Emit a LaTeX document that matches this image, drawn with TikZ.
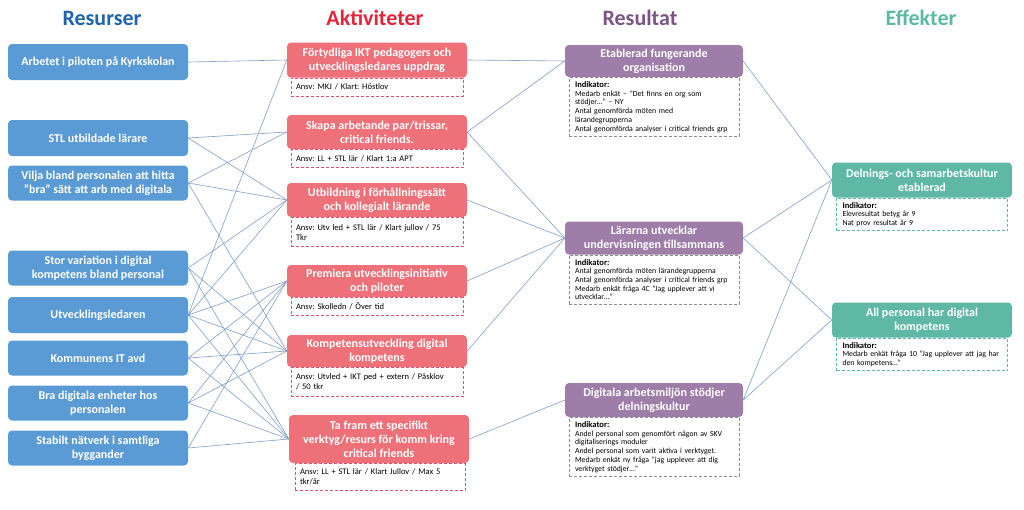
\documentclass[tikz,border=0pt]{standalone}
\usepackage{fontspec}
\setmainfont{Carlito}
\frenchspacing
\usetikzlibrary{positioning}
\definecolor{resBlue}{HTML}{5B9BD5}
\definecolor{resTitle}{HTML}{1F64AC}
\definecolor{actRed}{HTML}{EE7078}
\definecolor{actTitle}{HTML}{E5243B}
\definecolor{actDash}{HTML}{E0506A}
\definecolor{outPurple}{HTML}{9E7DA8}
\definecolor{outTitle}{HTML}{7B5586}
\definecolor{outGray}{HTML}{8C8C8C}
\definecolor{effTeal}{HTML}{5FB8A6}
\definecolor{effTitle}{HTML}{5CB9A4}
\definecolor{linkBlue}{HTML}{7F9FC8}

\begin{document}
\begin{tikzpicture}[
    x=1pt, y=-1pt,
    title/.style={font=\fontsize{22}{24}\selectfont\bfseries},
    box/.style={rounded corners=4pt, minimum width=180pt, inner sep=2pt, align=center, text=white, font=\fontsize{12}{14}\selectfont\bfseries},
    ansv/.style={draw=actDash, dash pattern=on 3pt off 2pt, line width=0.7pt, fill=white, text width=162pt, inner xsep=5pt, inner ysep=3pt, minimum height=18pt, align=left, font=\fontsize{8.5}{10}\selectfont},
    ind/.style={draw=#1, dash pattern=on 3pt off 2pt, line width=0.7pt, fill=white, anchor=north, text width=158pt, inner xsep=6pt, inner ysep=4pt, align=left, font=\fontsize{7.8}{8.7}\selectfont},
    link/.style={draw=linkBlue, line width=0.6pt},
]
    \useasboundingbox (0,0) rectangle (1024,509);

    % column titles
    \node[title, text=resTitle] (tRes) at (102,18) {Resurser};
    \node[title, text=actTitle] (tAct) at (375,18) {Aktiviteter};
    \node[title, text=outTitle] (tOut) at (640,18) {Resultat};
    \node[title, text=effTitle] (tEff) at (921,18) {Effekter};

    % resurser
    \node[box, fill=resBlue, minimum height=36pt] (r1) at (98,62) {Arbetet i piloten på Kyrkskolan};
    \node[box, fill=resBlue, minimum height=36pt] (r2) at (98,138) {STL utbildade lärare};
    \node[box, fill=resBlue, minimum height=35pt] (r3) at (98,183) {Vilja bland personalen att hitta\\”bra” sätt att arb med digitala};
    \node[box, fill=resBlue, minimum height=35pt] (r4) at (98,268) {Stor variation i digital\\kompetens bland personal};
    \node[box, fill=resBlue, minimum height=36pt] (r5) at (98,315) {Utvecklingsledaren};
    \node[box, fill=resBlue, minimum height=35pt] (r6) at (98,358) {Kommunens IT avd};
    \node[box, fill=resBlue, minimum height=35pt] (r7) at (98,403) {Bra digitala enheter hos\\personalen};
    \node[box, fill=resBlue, minimum height=35pt] (r8) at (98,448) {Stabilt nätverk i samtliga\\byggander};

    % aktiviteter
    \node[box, fill=actRed, minimum height=35pt] (a1) at (377,60) {Förtydliga IKT pedagogers och\\utvecklingsledares uppdrag};
    \node[ansv, below=0pt of a1] (a1s) {Ansv: MKJ / Klart: Höstlov};
    \node[box, fill=actRed, minimum height=34pt] (a2) at (377,132) {Skapa arbetande par/trissar,\\critical friends.};
    \node[ansv, below=0pt of a2] (a2s) {Ansv: LL + STL lär / Klart 1:a APT};
    \node[box, fill=actRed, minimum height=34pt] (a3) at (377,200) {Utbildning i förhållningssätt\\och kollegialt lärande};
    \node[ansv, below=0pt of a3, minimum height=29pt] (a3s) {Ansv: Utv led + STL lär / Klart jullov / 75\\Tkr};
    \node[box, fill=actRed, minimum height=32pt] (a4) at (377,281) {Premiera utvecklingsinitiativ\\och piloter};
    \node[ansv, below=0pt of a4] (a4s) {Ansv: Skolledn / Över tid};
    \node[box, fill=actRed, minimum height=32pt] (a5) at (377,351) {Kompetensutveckling digital\\kompetens};
    \node[ansv, below=0pt of a5, minimum height=29pt] (a5s) {Ansv: Utvled + IKT ped + extern / Påsklov\\/ 50 tkr};
    \node[box, fill=actRed, minimum height=48pt] (a6) at (379,439) {Ta fram ett specifikt\\verktyg/resurs för komm kring\\critical friends};
    \node[ansv, below=0pt of a6, text width=160pt, minimum height=27pt, xshift=1pt] (a6s) {Ansv: LL + STL lär / Klart Jullov / Max 5\\tkr/år};

    % resultat
    \node[box, fill=outPurple, minimum height=32pt, minimum width=178pt] (o1) at (654,61) {Etablerad fungerande\\organisation};
    \node[ind=outGray, below=0pt of o1] (o1i) {{\fontsize{8.5}{8.7}\selectfont\bfseries Indikator:}\\Medarb enkät – ”Det finns en org som\\stödjer…” – NY\\Antal genomförda möten med\\lärandegrupperna\\Antal genomförda analyser i critical friends grp\par\vspace{18pt}};
    \node[box, fill=outPurple, minimum height=33pt, minimum width=178pt] (o2) at (654,238) {Lärarna utvecklar\\undervisningen tillsammans};
    \node[ind=outGray, below=0pt of o2] (o2i) {{\fontsize{8.5}{8.7}\selectfont\bfseries Indikator:}\\Antal genomförda möten lärandegrupperna\\Antal genomförda analyser i critical friends grp\\Medarb enkät fråga 4C ”Jag upplever att vi\\utvecklar…”\par\vspace{4pt}};
    \node[box, fill=outPurple, minimum height=34pt, minimum width=178pt] (o3) at (654,400) {Digitala arbetsmiljön stödjer\\delningskultur};
    \node[ind=outGray, below=0pt of o3] (o3i) {{\fontsize{8.5}{8.7}\selectfont\bfseries Indikator:}\\Andel personal som genomfört någon av SKV\\digitaliserings moduler\\Andel personal som varit aktiva i verktyget.\\Medarb enkät ny fråga ”jag upplever att dig\\verktyget stödjer…”\par\vspace{11pt}};

    % effekter
    \node[box, fill=effTeal, minimum height=35pt] (e1) at (922,180) {Delnings- och samarbetskultur\\etablerad};
    \node[ind=effTeal, below=0pt of e1, text width=159pt] (e1i) {{\fontsize{8.5}{8.7}\selectfont\bfseries Indikator:}\\Elevresultat betyg år 9\\Nat prov resultat år 9\par\vspace{7pt}};
    \node[box, fill=effTeal, minimum height=35pt] (e2) at (922,320) {All personal har digital\\kompetens};
    \node[ind=effTeal, below=0pt of e2, text width=159pt] (e2i) {{\fontsize{8.5}{8.7}\selectfont\bfseries Indikator:}\\Medarb enkät fråga 10 ”Jag upplever att jag har\\den kompetens…”\par\vspace{8pt}};

    % resurser -> aktiviteter
    \draw[link] (r1.east) -- (a1.west);
    \draw[link] (r2.east) -- (a2.west) (r2.east) -- (a3.west);
    \draw[link] (r3.east) -- (a2.west) (r3.east) -- (a3.west) (r3.east) -- (a5.west);
    \draw[link] (r4.east) -- (a3.west) (r4.east) -- (a5.west) (r4.east) -- (a6.west);
    \draw[link] (r5.east) -- (a1.west) (r5.east) -- (a3.west) (r5.east) -- (a4.west) (r5.east) -- (a5.west) (r5.east) -- (a6.west);
    \draw[link] (r6.east) -- (a4.west) (r6.east) -- (a5.west) (r6.east) -- (a6.west);
    \draw[link] (r7.east) -- (a4.west) (r7.east) -- (a5.west) (r7.east) -- (a6.west);
    \draw[link] (r8.east) -- (a4.west) (r8.east) -- (a6.west);

    % aktiviteter -> resultat
    \draw[link] (a1.east) -- (o1.west) (a2.east) -- (o1.west) (a2.east) -- (o2.west);
    \draw[link] (a3.east) -- (o2.west) (a4.east) -- (o2.west) (a5.east) -- (o2.west);
    \draw[link] (a6.east) -- (o3.west);

    % resultat -> effekter
    \draw[link] (o1.east) -- (e1.west) (o2.east) -- (e1.west) (o2.east) -- (e2.west);
    \draw[link] (o3.east) -- (e1.west) (o3.east) -- (e2.west);
\end{tikzpicture}
\end{document}
